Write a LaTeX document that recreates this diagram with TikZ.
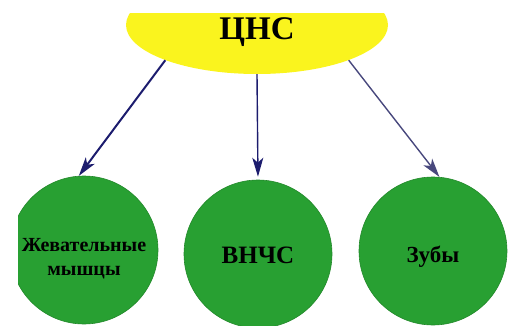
\documentclass[tikz,border=0pt]{standalone}
\usepackage{fontspec}
\setmainfont{Liberation Serif}
\usetikzlibrary{arrows.meta,shapes.geometric}

\definecolor{sun-yellow}{RGB}{250, 244, 30}
\definecolor{leaf-green}{RGB}{40, 160, 50}
\definecolor{navy-blue}{RGB}{28, 28, 110}
\definecolor{grey-blue}{RGB}{72, 72, 125}

\begin{document}
\begin{tikzpicture}[
        x=1pt, y=1pt,
        every node/.style={align=center, font=\bfseries},
        top/.style={ellipse, fill=sun-yellow, minimum width=262pt, minimum height=98pt, text height=29pt, text depth=0pt, font=\bfseries\fontsize{33}{36}\selectfont},
        part/.style={circle, fill=leaf-green, draw=leaf-green!85!black, line width=0.6pt, minimum size=148pt, inner sep=0pt, text depth=0pt},
        link/.style={-{Stealth[length=19pt, width=11pt, inset=5pt]}, shorten >=0pt},
    ]
        \useasboundingbox (0,0) rectangle (512,325);
        \clip (18,0) rectangle (512,312);

        \node[top] (cns) at (257,300) {ЦНС};

        \node[part, text height=51pt, font=\bfseries\fontsize{20}{24}\selectfont] (muscles) at (84,75) {Жевательные\\мышцы};
        \node[part, text height=18.5pt, font=\bfseries\fontsize{25}{28}\selectfont] (joint) at (258,71) {ВНЧС};
        \node[part, text height=23pt, font=\bfseries\fontsize{23}{26}\selectfont] (teeth) at (433,74) {Зубы};

        \draw[link, navy-blue, line width=2pt] (cns.201) -- (muscles.94);
        \draw[link, navy-blue, line width=1.4pt, shorten >=3pt] (cns.south) -- (joint.north);
        \draw[link, grey-blue, line width=1.4pt] (cns.339) -- (teeth.85);
    \end{tikzpicture}
\end{document}
